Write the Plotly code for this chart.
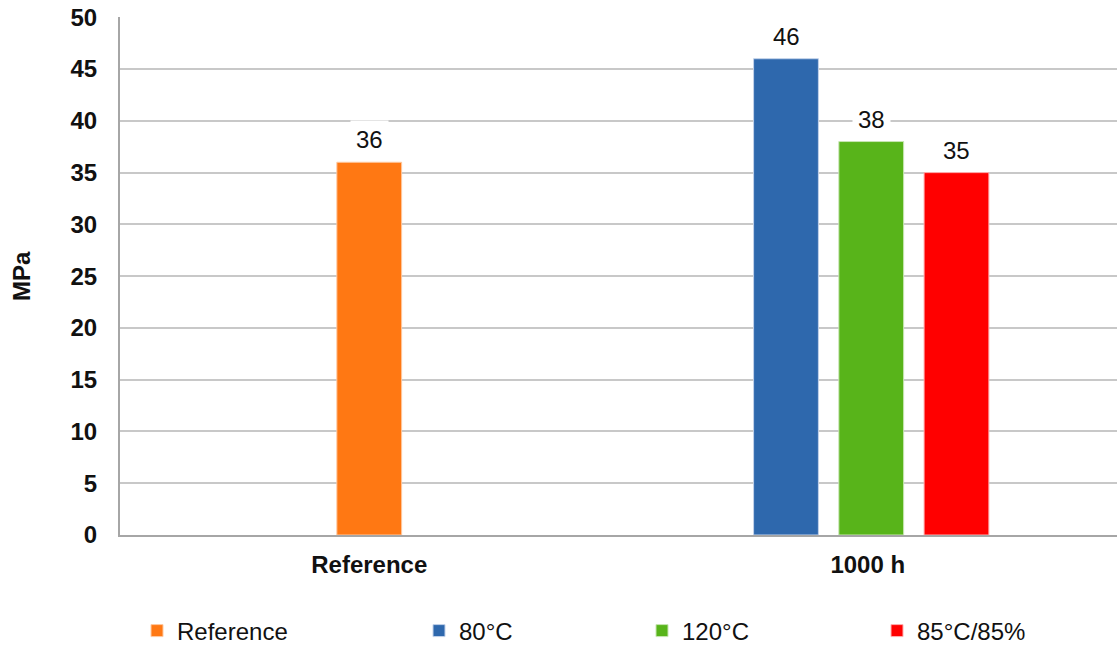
import plotly.graph_objects as go

# ---- data ----
categories = ["Reference", "1000 h"]
series_names = ["Reference", "80°C", "120°C", "85°C/85%"]
series_category = ["Reference", "1000 h", "1000 h", "1000 h"]
series_values = [36, 46, 38, 35]
y_ticks = [0, 5, 10, 15, 20, 25, 30, 35, 40, 45, 50]
y_title = "MPa"

# ---- styles ----
colors = ["#FF7813", "#2E68AD", "#58B41A", "#FF0000"]
edge_colors = ["#FFC9A0", "#C3D2EA", "#C8E6B3", "#FFB0B0"]
bar_width = 0.13
bar_centers = [0.0, -0.164, 0.007, 0.178]   # centre of each bar relative to its category
legend_left_px = [137, 419, 642, 877]
W, H = 1118, 648
ML, MR, MT, MB = 120, 1, 17, 112.5
FONT = "Liberation Sans, Arial, sans-serif"

cat_pos = {c: i for i, c in enumerate(categories)}

fig = go.Figure()
annotations = []
for i, name in enumerate(series_names):
    xpos = cat_pos[series_category[i]]
    fig.add_trace(go.Bar(
        x=[xpos], y=[series_values[i]], name=name,
        marker=dict(color=colors[i], line=dict(color=edge_colors[i], width=1)),
        width=bar_width, offset=bar_centers[i] - bar_width / 2,
        legend="legend" if i == 0 else f"legend{i+1}",
        hoverinfo="skip",
    ))
    annotations.append(dict(
        x=xpos + bar_centers[i], y=series_values[i],
        xref="x", yref="y", text=str(series_values[i]), showarrow=False,
        yanchor="bottom", yshift=3, bgcolor="white", borderpad=5,
        font=dict(family=FONT, size=24, color="#111111"),
    ))

plot_w = W - ML - MR
annotations.append(dict(
    x=(21 - ML) / plot_w, y=0.5, xref="paper", yref="paper",
    text=y_title, textangle=-90, showarrow=False,
    xanchor="center", yanchor="middle",
    font=dict(family=FONT, size=24, color="#111111", weight="bold"),
))

legends = {}
for i in range(len(series_names)):
    key = "legend" if i == 0 else f"legend{i+1}"
    legends[key] = dict(
        x=legend_left_px[i] / W, xref="container", xanchor="left",
        y=1 - 631 / H, yref="container", yanchor="middle",
        bgcolor="rgba(0,0,0,0)", borderwidth=0,
        font=dict(family=FONT, size=24, color="#111111"),
    )

fig.update_layout(
    width=W, height=H,
    margin=dict(l=ML, r=MR, t=MT, b=MB, autoexpand=False),
    paper_bgcolor="white", plot_bgcolor="white",
    barmode="overlay",
    showlegend=True,
    annotations=annotations,
    font=dict(family=FONT, color="#111111"),
    **legends,
)

fig.update_xaxes(
    type="linear", range=[-0.5, 1.5],
    tickvals=list(range(len(categories))), ticktext=categories,
    showline=True, linecolor="#A6A6A6", linewidth=2,
    showgrid=False, zeroline=False, ticks="",
    tickfont=dict(family=FONT, size=24, color="#111111", weight="bold"),
    ticklabelstandoff=7,
)
fig.update_yaxes(
    range=[0, 50.03], tickvals=y_ticks,
    showline=True, linecolor="#A6A6A6", linewidth=2,
    showgrid=True, gridcolor="#C8C8C8", gridwidth=2,
    zeroline=False, ticks="",
    tickfont=dict(family=FONT, size=24, color="#111111", weight="bold"),
    ticklabelstandoff=16, ticklabeloverflow="allow",
)

fig.write_html("out.html", config={"displayModeBar": False},
               post_script="document.body.style.margin='0';")
